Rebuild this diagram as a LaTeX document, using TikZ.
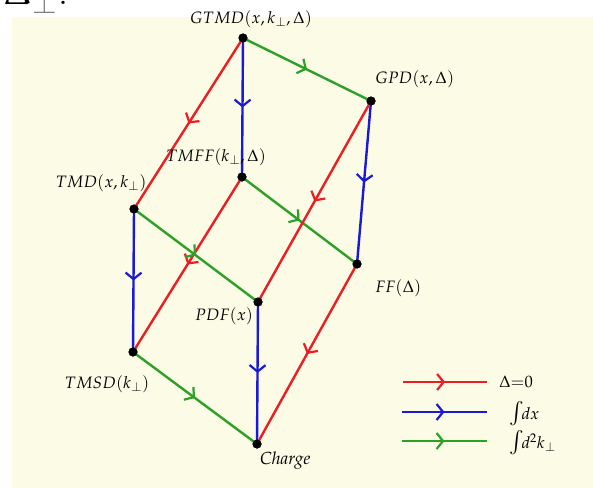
\documentclass[tikz,border=0pt]{standalone}
\usepackage{mathpazo}
\usetikzlibrary{arrows.meta,decorations.markings}
\definecolor{cream}{RGB}{252,251,230}
\definecolor{lred}{RGB}{235,30,35}
\definecolor{lblue}{RGB}{25,25,215}
\definecolor{lgreen}{RGB}{45,160,40}
\newcommand{\bigint}{{\fontsize{21}{22}\selectfont$\int$}}
\tikzset{
  dot/.style={circle,fill=black,inner sep=0pt,minimum size=9pt},
  lbl/.style={inner sep=0pt,font=\fontsize{16.5}{18}\selectfont},
  midarrow/.style={postaction={decorate,decoration={markings,
      mark=at position 0.5 with {\arrow{Straight Barb[length=6.5pt,width=16pt,line width=2.2pt]}}}}},
  edge/.style={line width=2.4pt,midarrow},
  redge/.style={edge,draw=lred,color=lred},
  bedge/.style={edge,draw=lblue,color=lblue},
  gedge/.style={edge,draw=lgreen,color=lgreen},
}
\begin{document}
\begin{tikzpicture}[x=1pt,y=-1pt]
\useasboundingbox (0,0) rectangle (593,487);
\fill[white] (0,0) rectangle (593,487);
\fill[cream] (12,17) rectangle (594,488);
\begin{scope}
\clip (0,0) rectangle (593,487);
\node[anchor=base west,inner sep=0pt,font=\fontsize{40}{44}\selectfont] (frag) at (4,5) {$\Delta_{\textcolor{gray}{\perp}}$.};
\end{scope}
% dots
\node[dot] (gtmd) at (243,38) {};
\node[dot] (gpd) at (371,101) {};
\node[dot] (tmff) at (242,177) {};
\node[dot] (tmd) at (134,209) {};
\node[dot] (ff) at (357,264) {};
\node[dot] (pdf) at (258,302) {};
\node[dot] (tmsd) at (133,352) {};
\node[dot] (charge) at (257,444) {};
% edges
\draw[gedge] (gtmd.center) -- (gpd.center);
\draw[redge] (gtmd.center) -- (tmd.center);
\draw[bedge] (gtmd.center) -- (tmff.center);
\draw[bedge] (gpd.center) -- (ff.center);
\draw[gedge] (tmff.center) -- (ff.center);
\draw[redge] (gpd.center) -- (pdf.center);
\draw[redge] (tmff.center) -- (tmsd.center);
\draw[bedge] (tmd.center) -- (tmsd.center);
\draw[gedge] (tmd.center) -- (pdf.center);
\draw[bedge] (pdf.center) -- (charge.center);
\draw[redge] (ff.center) -- (charge.center);
\draw[gedge] (tmsd.center) -- (charge.center);
% redraw dots on top
\foreach \n in {gtmd,gpd,tmff,tmd,ff,pdf,tmsd,charge}
  \fill[black] (\n.center) circle (4.5pt);
% labels
\node[lbl] (lgtmd) at (251,19) {$GTMD(x,k_\perp,\Delta)$};
\node[lbl,anchor=west] (lgpd) at (375,79) {$GPD(x,\Delta)$};
\node[lbl] (ltmff) at (216,157) {$TMFF(k_\perp,\Delta)$};
\node[lbl] (ltmd) at (101,183) {$TMD(x,k_\perp)$};
\node[lbl,anchor=west] (lff) at (375,288) {$FF(\Delta)$};
\node[lbl] (lpdf) at (224,316) {$PDF(x)$};
\node[lbl] (ltmsd) at (107,384) {$TMSD(k_\perp)$};
\node[lbl,anchor=west,font=\fontsize{17.5}{19}\selectfont] (lcharge) at (260,460) {$\mathit{Charge}$};
% legend
\coordinate (r1) at (403,382); \coordinate (r2) at (487,382);
\coordinate (b1) at (402,412); \coordinate (b2) at (487,412);
\coordinate (g1) at (402,441); \coordinate (g2) at (487,441);
\draw[redge] (r1) -- (r2);
\draw[bedge] (b1) -- (b2);
\draw[gedge] (g1) -- (g2);
\node[lbl,anchor=west] (lr) at (499,382) {$\Delta{=}0$};
\node[lbl,anchor=west] (lb) at (509,414) {\bigint$\!dx$};
\node[lbl,anchor=west] (lg) at (509,443) {\bigint$\!d^2k_\perp$};
\end{tikzpicture}
\end{document}
